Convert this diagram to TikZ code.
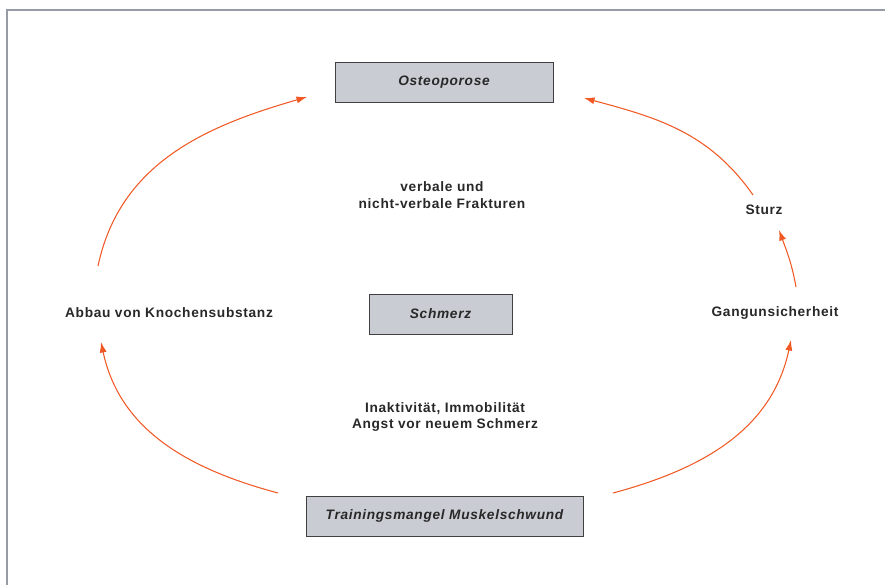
\documentclass[tikz,border=0pt]{standalone}
\usepackage{fontspec}
\setmainfont{Liberation Sans}[LetterSpace=5]
\usetikzlibrary{arrows.meta}
\definecolor{boxfill}{RGB}{201,204,210}
\definecolor{framegray}{RGB}{150,156,166}
\definecolor{cyclered}{RGB}{240,88,36}
\definecolor{textgray}{RGB}{40,40,40}
\begin{document}
\begin{tikzpicture}[x=0.2mm,y=0.2mm,line width=.6pt,
  font=\fontsize{7.8}{9.6}\selectfont\bfseries,text=textgray,
  box/.style={draw=black!75,line width=.55pt,fill=boxfill,minimum height=8mm,inner sep=0pt,font=\fontsize{7.8}{9.6}\selectfont\bfseries\itshape},
  lbl/.style={align=center,inner sep=1pt},
  cycle/.style={draw=cyclered,-{Latex[length=6pt,width=4pt]}}]
\useasboundingbox (0,0) rectangle (885,585);
% frame
\draw[framegray,line width=.9pt] (885,575)--(7,575)--(7,0);
% boxes
\node[box,minimum width=43.6mm] (osteo) at (444,502.5) {Osteoporose};
\node[box,minimum width=28.6mm] (schmerz) at (440.5,271) {Schmerz};
\node[box,minimum width=55.4mm] (training) at (444.5,69) {Trainingsmangel Muskelschwund};
% labels
\node[lbl] (frakt) at (442,390) {verbale und\\nicht-verbale Frakturen};
\node[lbl] (sturz) at (764,375) {Sturz};
\node[lbl] (abbau) at (169,272) {Abbau von Knochensubstanz};
\node[lbl] (gang) at (775,272) {Gangunsicherheit};
\node[lbl] (inakt) at (445,168) {Inaktivit\"at, Immobilit\"at\\Angst vor neuem Schmerz};
% arrow ends
\coordinate (a1) at (98,319);  \coordinate (b1) at (307,488);
\coordinate (a2) at (753,390); \coordinate (b2) at (584,487);
\coordinate (a3) at (796,298); \coordinate (b3) at (779,355);
\coordinate (a4) at (278,92);  \coordinate (b4) at (101,243);
\coordinate (a5) at (613,92);  \coordinate (b5) at (791,245);
% cycle
\draw[cycle] (a1) to[out=78,in=196] (b1);
\draw[cycle] (a2) to[out=125,in=-15] (b2);
\draw[cycle] (a3) to[out=100,in=-70] (b3);
\draw[cycle] (a4) to[out=165,in=-78] (b4);
\draw[cycle] (a5) to[out=15,in=-102] (b5);
\end{tikzpicture}
\end{document}
